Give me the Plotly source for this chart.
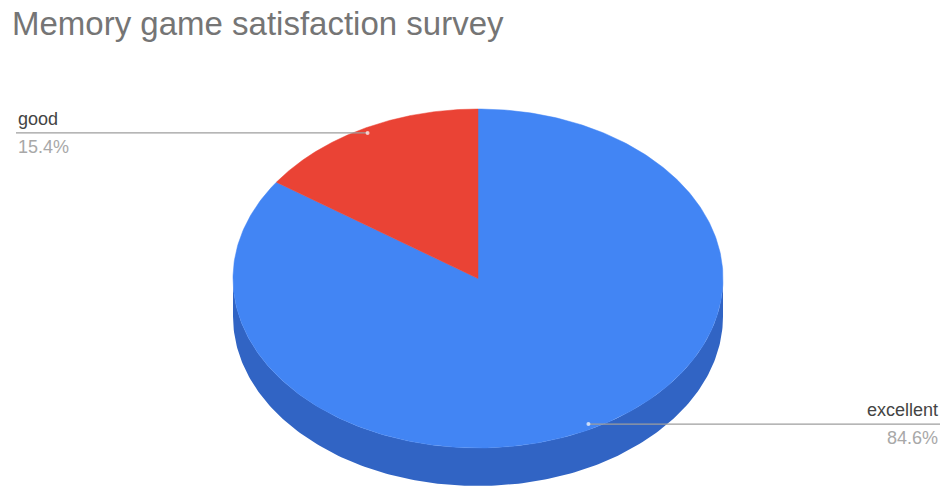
import numpy as np
import plotly.graph_objects as go

# ---- data ----
categories = ["excellent", "good"]
values = [11, 2]
top_colors = ["#4285f4", "#ea4335"]
side_colors = ["#3164c4", "#b0322a"]
title_text = "Memory game satisfaction survey"

W, H = 944, 490
cx, cy = 478, 278.5
rx, ry = 245, 169.5
depth = 38
label_k = 0.97

total = sum(values)
fracs = [v / total for v in values]
pcts = [f"{f*100:.1f}%" for f in fracs]

def pt(phi_deg, k=1.0, dy=0.0):
    p = np.radians(phi_deg)
    return cx + rx * k * np.sin(p), cy - ry * k * np.cos(p) + dy

fig = go.Figure()

# slice angle ranges (clockwise from 12 o'clock)
starts = []
acc = 0.0
for f in fracs:
    starts.append((acc, acc + f * 360))
    acc += f * 360

# side walls (visible bottom half: 90..270 degrees)
for (a0, a1), col in zip(starts, side_colors):
    s0, s1 = max(a0, 90), min(a1, 270)
    if s1 <= s0:
        continue
    ph = np.linspace(s0, s1, 200)
    xt, yt = pt(ph)
    xb, yb = pt(ph[::-1], dy=depth)
    xs = np.concatenate([xt, xb, xt[:1]])
    ys = np.concatenate([yt, yb, yt[:1]])
    fig.add_trace(go.Scatter(x=xs, y=ys, mode="lines", fill="toself",
                             fillcolor=col, line=dict(width=0, color=col),
                             hoverinfo="skip", showlegend=False))

# top faces
for (a0, a1), col, name in zip(starts, top_colors, categories):
    ph = np.linspace(a0, a1, 400)
    xa, ya = pt(ph)
    xs = np.concatenate([[cx], xa, [cx]])
    ys = np.concatenate([[cy], ya, [cy]])
    fig.add_trace(go.Scatter(x=xs, y=ys, mode="lines", fill="toself",
                             fillcolor=col, line=dict(width=0.5, color=col),
                             name=name, hoverinfo="skip", showlegend=False))

# leader lines and labels
annotations = []
for (a0, a1), name, pc in zip(starts, categories, pcts):
    mid = (a0 + a1) / 2
    dx, dyv = pt(mid, k=label_k)
    left = np.sin(np.radians(mid)) < 0
    end_x = 16 if left else 940
    fig.add_trace(go.Scatter(x=[end_x, dx], y=[dyv, dyv], mode="lines",
                             line=dict(color="#9e9e9e", width=1.2),
                             hoverinfo="skip", showlegend=False))
    fig.add_trace(go.Scatter(x=[dx], y=[dyv], mode="markers",
                             marker=dict(size=4, color="rgba(255,255,255,0.7)"),
                             hoverinfo="skip", showlegend=False))
    anchor = "left" if left else "right"
    annotations.append(dict(x=end_x, y=dyv - 2, xref="x", yref="y", text=name,
                            showarrow=False, xanchor=anchor, yanchor="bottom",
                            font=dict(family="Liberation Sans, Arial", size=18, color="#444444")))
    annotations.append(dict(x=end_x, y=dyv + 2, xref="x", yref="y", text=pc,
                            showarrow=False, xanchor=anchor, yanchor="top",
                            font=dict(family="Liberation Sans, Arial", size=18, color="#a8a8a8")))

annotations.append(dict(x=10, y=23, xref="x", yref="y", text=title_text,
                        showarrow=False, xanchor="left", yanchor="middle",
                        font=dict(family="Liberation Sans, Arial", size=33, color="#757575")))

fig.update_layout(
    width=W, height=H,
    margin=dict(l=0, r=0, t=0, b=0),
    paper_bgcolor="white", plot_bgcolor="white",
    xaxis=dict(range=[0, W], visible=False, fixedrange=True),
    yaxis=dict(range=[H, 0], visible=False, fixedrange=True),
    annotations=annotations,
    showlegend=False,
)

fig.write_html("out.html")
